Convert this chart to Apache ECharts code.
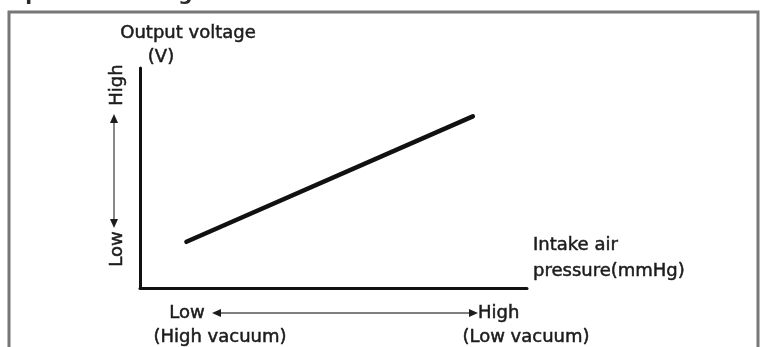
<!DOCTYPE html>
<html>
<head>
<meta charset="utf-8">
<script src="https://cdn.jsdelivr.net/npm/echarts@6/dist/echarts.min.js"></script>
<style>html,body{margin:0;padding:0;background:#fff}#c{width:761px;height:347px}</style>
</head>
<body>
<div id="c"></div>
<script>
// Data (arbitrary relative units)
var pressure = [1.2, 8.6];      // intake air pressure (Low -> High)
var voltage = [2.1, 7.8];       // output voltage (Low -> High)
var yTitle = ['Output voltage', '(V)'];
var yEnds = ['High', 'Low'];
var xTitle = ['Intake air', 'pressure(mmHg)'];
var xEnds = ['Low', 'High'];
var xEndsSub = ['(High vacuum)', '(Low vacuum)'];
var caption = 'air pressure is high.';

var chart = echarts.init(document.getElementById('c'), null, {renderer: 'canvas'});
var F = '18px "DejaVu Sans"';
var C = '#1c1c1c';
function txt(s, x, y, align, rot) {
  return {type: 'text', x: x, y: y, rotation: rot || 0,
    style: {text: s, font: F, fill: C, stroke: C, lineWidth: 0.5, textAlign: align || 'center', textVerticalAlign: 'middle'}};
}
function arrowHead(tipX, tipY, dir) {
  var L = 9, W = 4, p;
  if (dir === 'up') p = [[tipX, tipY], [tipX - W, tipY + L], [tipX + W, tipY + L]];
  if (dir === 'down') p = [[tipX, tipY], [tipX - W, tipY - L], [tipX + W, tipY - L]];
  if (dir === 'left') p = [[tipX, tipY], [tipX + L, tipY - W], [tipX + L, tipY + W]];
  if (dir === 'right') p = [[tipX, tipY], [tipX - L, tipY - W], [tipX - L, tipY + W]];
  return {type: 'polygon', shape: {points: p}, style: {fill: C}};
}
var graphics = [
  {type: 'rect', shape: {x: 9, y: 12, width: 749, height: 360}, style: {fill: 'none', stroke: '#777', lineWidth: 3}},
  {type: 'text', x: -12, y: 5, style: {text: caption, font: 'bold 20px "DejaVu Sans"', fill: '#2a2a2a', textAlign: 'left', textVerticalAlign: 'bottom'}},
  txt(yTitle[0], 188, 33),
  txt(yTitle[1], 161, 57),
  txt(yEnds[0], 117, 85, 'center', Math.PI / 2),
  txt(yEnds[1], 117, 249, 'center', Math.PI / 2),
  {type: 'line', shape: {x1: 114, y1: 120, x2: 114, y2: 222}, style: {stroke: '#555', lineWidth: 1.4}},
  arrowHead(114, 114, 'up'),
  arrowHead(114, 228, 'down'),
  txt(xTitle[0], 533, 245, 'left'),
  txt(xTitle[1], 533, 271, 'left'),
  txt(xEnds[0], 187, 313),
  txt(xEndsSub[0], 220, 337),
  txt(xEnds[1], 478, 313, 'left'),
  txt(xEndsSub[1], 526, 337),
  {type: 'line', shape: {x1: 219, y1: 313, x2: 472, y2: 313}, style: {stroke: '#555', lineWidth: 1.4}},
  arrowHead(212, 313, 'left'),
  arrowHead(478, 313, 'right')
];

chart.setOption({
  animation: false,
  backgroundColor: '#fff',
  grid: {left: 140, top: 68, right: 234, bottom: 59},
  xAxis: {type: 'value', min: 0, max: 10, axisLine: {show: true, onZero: false, lineStyle: {color: '#111', width: 3}},
    axisTick: {show: false}, axisLabel: {show: false}, splitLine: {show: false}},
  yAxis: {type: 'value', min: 0, max: 10, axisLine: {show: true, onZero: false, lineStyle: {color: '#111', width: 3}},
    axisTick: {show: false}, axisLabel: {show: false}, splitLine: {show: false}},
  series: [{
    type: 'line',
    data: pressure.map(function (x, i) { return [x, voltage[i]]; }),
    symbol: 'none',
    lineStyle: {color: '#111', width: 4.5, cap: 'round'}
  }],
  graphic: graphics
});
</script>
</body>
</html>
